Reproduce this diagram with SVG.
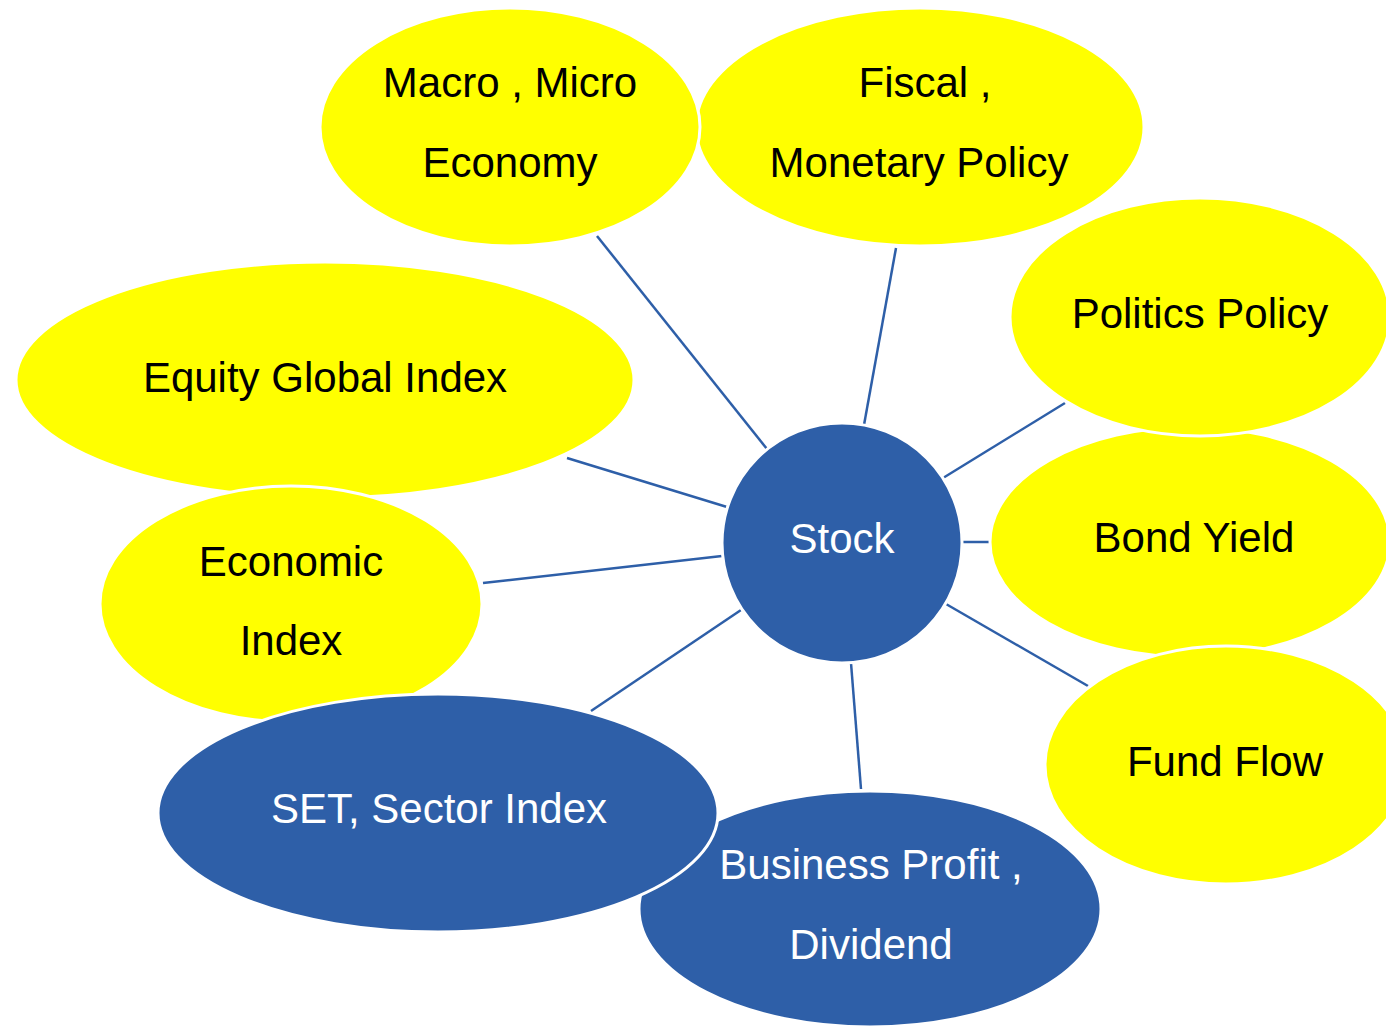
<svg xmlns="http://www.w3.org/2000/svg" width="1386" height="1026" viewBox="0 0 1386 1026">
<style>
.y{fill:#FFFF00;stroke:#FFFFFF;stroke-width:3}
.b{fill:#2E5FA8;stroke:#FFFFFF;stroke-width:3}
.t{font-family:"Liberation Sans",Arial,sans-serif;font-size:42px;text-anchor:middle}
.tk{fill:#000000}
.tw{fill:#FFFFFF}
.c line{stroke:#2E5FA8;stroke-width:2.5}
</style>
<rect width="1386" height="1026" fill="#FFFFFF"/>
<g id="connectors" class="c">
<line x1="597" y1="236" x2="767" y2="449"/>
<line x1="896" y1="248" x2="864" y2="425"/>
<line x1="1065" y1="403" x2="943" y2="478"/>
<line x1="963" y1="542" x2="990" y2="542"/>
<line x1="946" y1="604" x2="1088" y2="686"/>
<line x1="851" y1="663" x2="861" y2="789"/>
<line x1="741" y1="610" x2="591" y2="711"/>
<line x1="722" y1="556" x2="483" y2="583"/>
<line x1="567" y1="458" x2="727" y2="507"/>
</g>
<g id="fiscal"><ellipse class="y" cx="920" cy="127" rx="224" ry="119"/>
<text class="t tk" x="925" y="97">Fiscal ,</text><text class="t tk" x="919" y="177">Monetary Policy</text></g>
<g id="macro"><ellipse class="y" cx="510" cy="127" rx="190" ry="119"/>
<text class="t tk" x="510" y="97">Macro , Micro</text><text class="t tk" x="510" y="177">Economy</text></g>
<g id="bond"><ellipse class="y" cx="1190" cy="542" rx="200" ry="115"/>
<text class="t tk" x="1194" y="552">Bond Yield</text></g>
<g id="politics"><ellipse class="y" cx="1200" cy="317" rx="190" ry="119"/>
<text class="t tk" x="1200" y="328">Politics Policy</text></g>
<g id="fundflow"><ellipse class="y" cx="1226" cy="765" rx="181" ry="119"/>
<text class="t tk" x="1225" y="776">Fund Flow</text></g>
<g id="equity"><ellipse class="y" cx="325" cy="380" rx="309" ry="118"/>
<text class="t tk" x="325" y="392">Equity Global Index</text></g>
<g id="economic"><ellipse class="y" cx="291" cy="604" rx="191" ry="118"/>
<text class="t tk" x="291" y="576">Economic</text><text class="t tk" x="291" y="655">Index</text></g>
<g id="business"><ellipse class="b" cx="870" cy="909" rx="231" ry="118"/>
<text class="t tw" x="871" y="879">Business Profit ,</text><text class="t tw" x="871" y="959">Dividend</text></g>
<g id="set"><ellipse class="b" cx="438" cy="813" rx="280" ry="119"/>
<text class="t tw" x="439" y="823">SET, Sector Index</text></g>
<g id="stock"><circle class="b" cx="842" cy="543" r="120"/>
<text class="t tw" x="842" y="553">Stock</text></g>
</svg>
